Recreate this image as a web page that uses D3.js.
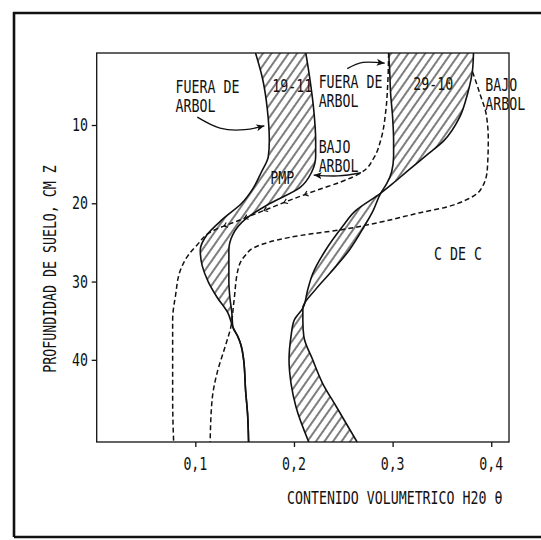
<!DOCTYPE html>
<html>
<head>
<meta charset="utf-8">
<script src="https://cdn.jsdelivr.net/npm/d3@7"></script>
<style>
  html, body { margin: 0; padding: 0; background: #fff; }
  svg { display: block; }
  text { font-family: "DejaVu Sans Mono", monospace; font-size: 17px; fill: #111; }
</style>
</head>
<body>
<svg id="chart" width="541" height="540"></svg>
<script>
// Axis ticks
const depthTicks = [10, 20, 30, 40];
const thetaTicks = [0.1, 0.2, 0.3, 0.4];
const thetaTickLabels = ["0,1", "0,2", "0,3", "0,4"];

// Profiles of 19-11 (volumetric water content vs depth, cm)
const depth1911 = [0.8, 4, 8, 12, 14, 16, 18, 20, 22, 24, 26, 28, 30, 32, 34, 35.8, 37, 38, 40, 44, 47, 50.5];
const fuera1911 = [0.161, 0.168, 0.173, 0.175, 0.174, 0.167, 0.159, 0.147, 0.128, 0.112, 0.105, 0.107, 0.113, 0.122, 0.133, 0.138, 0.143, 0.146, 0.149, 0.151, 0.153, 0.154];
const bajo1911  = [0.212, 0.216, 0.220, 0.222, 0.222, 0.218, 0.206, 0.176, 0.151, 0.138, 0.134, 0.134, 0.134, 0.135, 0.137, 0.138, 0.143, 0.146, 0.149, 0.151, 0.153, 0.154];
const meet1911 = 35.8;

// Profiles of 29-10
const depth2910 = [0.8, 3, 6, 9, 12, 14, 16, 17.5, 18.7, 21, 23, 26, 29, 31, 33.4, 35, 37, 40, 43, 46, 50.5];
const fuera2910 = [0.296, 0.297, 0.298, 0.300, 0.301, 0.301, 0.299, 0.294, 0.288, 0.280, 0.271, 0.256, 0.236, 0.222, 0.209, 0.209, 0.210, 0.219, 0.229, 0.243, 0.264];
const bajo2910  = [0.382, 0.381, 0.376, 0.368, 0.352, 0.333, 0.314, 0.300, 0.288, 0.262, 0.249, 0.232, 0.219, 0.214, 0.209, 0.200, 0.197, 0.195, 0.197, 0.202, 0.215];

// Wilting point (PMP)
const depthPMP = [0.8, 4.9, 8.3, 11.9, 14.2, 16.1, 17.3, 18.3, 19.6, 20.6, 22.1, 23.7, 25.3, 26.6, 28.5, 31.7, 34.9, 41.3, 45.1, 50.5];
const thetaPMP = [0.296, 0.295, 0.293, 0.288, 0.281, 0.268, 0.247, 0.224, 0.196, 0.176, 0.146, 0.115, 0.102, 0.093, 0.085, 0.080, 0.077, 0.077, 0.077, 0.078];

// Field capacity (C DE C)
const depthCDC = [3.2, 6.2, 8.7, 11.9, 15.7, 18.3, 19.6, 20.5, 21.2, 22.4, 23.4, 24.1, 24.7, 25.7, 26.6, 28.1, 32.7, 35.8, 38.4, 41.7, 45.1, 50.5];
const thetaCDC = [0.381, 0.389, 0.395, 0.397, 0.396, 0.389, 0.374, 0.354, 0.328, 0.288, 0.247, 0.207, 0.183, 0.159, 0.151, 0.144, 0.139, 0.136, 0.130, 0.122, 0.117, 0.115];

// Text annotations, placed in data units [theta, depth]
const notes = [
  { t: "FUERA DE", at: [0.080, 5.9] },
  { t: "ARBOL",    at: [0.080, 8.34] },
  { t: "19-11",    at: [0.178, 5.8] },
  { t: "FUERA DE", at: [0.225, 5.3] },
  { t: "ARBOL",    at: [0.225, 7.7] },
  { t: "BAJO",     at: [0.225, 13.6] },
  { t: "ARBOL",    at: [0.225, 16.0] },
  { t: "PMP",      at: [0.176, 17.5] },
  { t: "29-10",    at: [0.321, 5.5] },
  { t: "BAJO",     at: [0.394, 5.6] },
  { t: "ARBOL",    at: [0.394, 8.1] },
  { t: "C DE C",   at: [0.342, 27.3] }
];
// Pointer arrows, each a list of [theta, depth]
const arrows = [
  [[0.102, 9.0], [0.125, 10.4], [0.150, 10.6], [0.170, 10.1]],
  [[0.254, 2.8], [0.270, 2.0], [0.292, 2.1]],
  [[0.268, 16.1], [0.245, 16.5], [0.220, 16.4]]
];

const svg = d3.select("#chart");
const x = d3.scaleLinear().domain([0, 0.418]).range([96.7, 509]);
const y = d3.scaleLinear().domain([0.8, 50.5]).range([53, 442]);

// Outer frame lines
const frame = svg.append("g").attr("stroke", "#111").attr("stroke-width", 2.6).attr("fill", "none");
frame.append("path").attr("d", "M14,12 V537");
frame.append("path").attr("d", "M13,13 H541");
frame.append("path").attr("d", "M14,537 H541");

const defs = svg.append("defs");
defs.append("pattern")
  .attr("id", "hatch").attr("patternUnits", "userSpaceOnUse")
  .attr("width", 7).attr("height", 12)
  .attr("patternTransform", "rotate(35)")
  .append("line").attr("x1", 1).attr("y1", 0).attr("x2", 1).attr("y2", 12)
  .attr("stroke", "#111").attr("stroke-width", 1.1);
defs.append("marker")
  .attr("id", "head").attr("viewBox", "-8 -4 9 8")
  .attr("refX", 0).attr("refY", 0)
  .attr("markerWidth", 9).attr("markerHeight", 8)
  .attr("markerUnits", "userSpaceOnUse")
  .attr("orient", "auto")
  .append("path").attr("d", "M-8,-3.5 L0,0 L-8,3.5 L-6,0 Z").attr("fill", "#111");

const clip = defs.append("clipPath").attr("id", "plotclip");
clip.append("rect").attr("x", x.range()[0]).attr("y", y.range()[0])
  .attr("width", x.range()[1] - x.range()[0]).attr("height", y.range()[1] - y.range()[0]);

const plot = svg.append("g").attr("clip-path", "url(#plotclip)");

const band = d3.area()
  .y(d => y(d.depth)).x0(d => x(d.a)).x1(d => x(d.b))
  .curve(d3.curveMonotoneY);
const line = d3.line()
  .x(d => x(d[0])).y(d => y(d[1]))
  .curve(d3.curveMonotoneY);

const rows1911 = depth1911.map((d, i) => ({ depth: d, a: fuera1911[i], b: bajo1911[i] }))
  .filter(r => r.depth <= meet1911);
const rows2910 = depth2910.map((d, i) => ({ depth: d, a: fuera2910[i], b: bajo2910[i] }));

plot.append("path").attr("d", band(rows1911)).attr("fill", "url(#hatch)");
plot.append("path").attr("d", band(rows2910)).attr("fill", "url(#hatch)");

const solid = [
  d3.zip(fuera1911, depth1911), d3.zip(bajo1911, depth1911),
  d3.zip(fuera2910, depth2910), d3.zip(bajo2910, depth2910)
];
plot.selectAll("path.solid").data(solid).join("path")
  .attr("class", "solid")
  .attr("d", line).attr("fill", "none")
  .attr("stroke", "#111").attr("stroke-width", 1.6);

const dashed = [d3.zip(thetaPMP, depthPMP), d3.zip(thetaCDC, depthCDC)];
const dashedPaths = plot.selectAll("path.dashed").data(dashed).join("path")
  .attr("class", "dashed")
  .attr("d", line).attr("fill", "none")
  .attr("stroke", "#111").attr("stroke-width", 1.5)
  .attr("stroke-dasharray", "5,3");

// Small chevrons on the wilting-point line where it crosses the 19-11 band
const pmpNode = dashedPaths.nodes()[0];
const total = pmpNode.getTotalLength();
[18.9, 19.9, 20.9, 21.9, 22.9].forEach(dep => {
  const target = y(dep);
  let L = 0;
  while (L < total && pmpNode.getPointAtLength(L).y < target) L += 0.5;
  const p = pmpNode.getPointAtLength(L);
  const q = pmpNode.getPointAtLength(Math.min(total, L + 2));
  const ang = Math.atan2(q.y - p.y, q.x - p.x) * 180 / Math.PI;
  plot.append("path")
    .attr("transform", `translate(${p.x},${p.y}) rotate(${ang})`)
    .attr("d", "M-3.5,-2.5 L0,0 L-3.5,2.5")
    .attr("fill", "none").attr("stroke", "#111").attr("stroke-width", 1.1);
});

// Plot frame
svg.append("rect")
  .attr("x", x.range()[0]).attr("y", y.range()[0])
  .attr("width", x.range()[1] - x.range()[0]).attr("height", y.range()[1] - y.range()[0])
  .attr("fill", "none").attr("stroke", "#111").attr("stroke-width", 1.3);

// Condensed typewriter-style text helper
function label(g, txt, px, py, anchor = "start", rot = 0) {
  return g.append("text")
    .attr("transform", `translate(${px},${py}) rotate(${rot}) scale(0.78,1)`)
    .attr("text-anchor", anchor)
    .text(txt);
}

// Axes
const xAxis = svg.append("g").attr("transform", `translate(0,${y.range()[1]})`)
  .call(d3.axisBottom(x).tickValues(thetaTicks).tickSizeInner(5).tickSizeOuter(0).tickFormat(""));
const yAxis = svg.append("g").attr("transform", `translate(${x.range()[0]},0)`)
  .call(d3.axisLeft(y).tickValues(depthTicks).tickSizeInner(5).tickSizeOuter(0).tickFormat(""));
[xAxis, yAxis].forEach(a => {
  a.select(".domain").remove();
  a.selectAll(".tick line").attr("stroke", "#111").attr("stroke-width", 1.3);
});

const txt = svg.append("g");
thetaTicks.forEach((v, i) => label(txt, thetaTickLabels[i], x(v), 470, "middle"));
depthTicks.forEach(d => label(txt, String(d), 88, y(d) + 6, "end"));

label(txt, "CONTENIDO VOLUMETRICO H20  \u03B8", 287, 504, "start");
label(txt, "PROFUNDIDAD DE SUELO, CM  Z", 56, 269, "middle", -90);

notes.forEach(n => label(txt, n.t, x(n.at[0]), y(n.at[1]), "start"));

const arrowLine = d3.line().x(d => x(d[0])).y(d => y(d[1])).curve(d3.curveNatural);
svg.append("g").selectAll("path").data(arrows).join("path")
  .attr("d", arrowLine).attr("fill", "none")
  .attr("stroke", "#111").attr("stroke-width", 1.3)
  .attr("marker-end", "url(#head)");
</script>
</body>
</html>
